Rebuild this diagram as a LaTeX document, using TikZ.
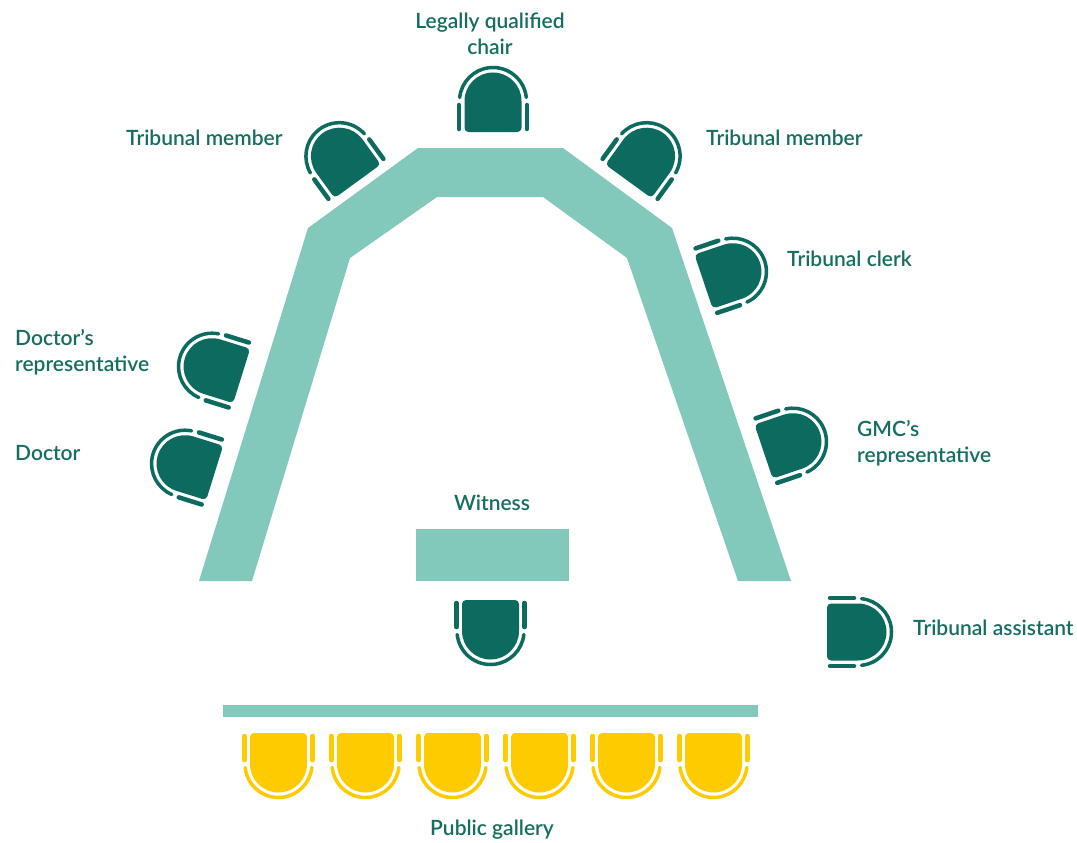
\documentclass[tikz,border=0pt]{standalone}
\usepackage{fontspec}
\setmainfont{Lato}[UprightFont={* Semibold}]
\definecolor{tablec}{HTML}{82C8BB}
\definecolor{chairc}{HTML}{0C6B5E}
\definecolor{goldc}{HTML}{FECB00}
\definecolor{textc}{HTML}{156E61}
\newcommand\chairpic[3]{%
\begin{scope}[shift={(#1)}, rotate=#2, x=1pt, y=1pt]
 \fill[#3] (28.5,1) arc[start angle=0,end angle=180,radius=28.5] -- (-28.5,-26) arc[start angle=180,end angle=270,radius=4] -- (24.5,-30) arc[start angle=270,end angle=360,radius=4] -- cycle;
 \draw[#3, line width=3.5pt, line cap=round] ({33.5*cos(6)},{1+33.5*sin(6)}) arc[start angle=6,end angle=174,radius=33.5];
 \draw[#3, line width=4.5pt, line cap=round] (-34,-3) -- (-34,-27) (34,-3) -- (34,-27);
\end{scope}}
\tikzset{lbl/.style={text=textc, inner sep=0pt, font=\fontsize{21}{26}\selectfont}}
\begin{document}
\begin{tikzpicture}[x=1pt,y=-1pt]
\useasboundingbox (0,0) rectangle (1077,843);
\fill[white] (0,0) rectangle (1077,843);
% main table
\fill[tablec] (418,148) -- (563,148) -- (672,228) -- (791,581) -- (738,581) -- (627,258) -- (543,197) -- (437,197) -- (350,258) -- (252,581) -- (199,581) -- (308,228) -- cycle;
% witness table
\fill[tablec] (416,529) rectangle (569,581);
% gallery bar
\fill[tablec] (223,705) rectangle (758,717);
% chairs
\chairpic{493,102}{0}{chairc}
\chairpic{340,157}{36}{chairc}
\chairpic{646,157}{-36}{chairc}
\chairpic{732,272}{-71.4}{chairc}
\chairpic{792,442}{-71.4}{chairc}
\chairpic{213,367}{72.7}{chairc}
\chairpic{186,464}{72.7}{chairc}
\chairpic{490.5,630}{180}{chairc}
\chairpic{857,632}{-90}{chairc}
\foreach \k in {0,...,5}{\chairpic{278.5+87*\k,763}{180}{goldc}}
% labels
\node[lbl, align=center] (lqc) at (490,34) {Legally qualified\\chair};
\node[lbl, anchor=west] (tml) at (126,138) {Tribunal member};
\node[lbl, anchor=west] (tmr) at (706,138) {Tribunal member};
\node[lbl, anchor=west] (tc) at (787,259) {Tribunal clerk};
\node[lbl, anchor=west, align=left] (drep) at (15,352) {Doctor’s\\representative};
\node[lbl, anchor=west] (doc) at (15,453) {Doctor};
\node[lbl, anchor=west, align=left] (gmc) at (857,443) {GMC’s\\representative};
\node[lbl] (wit) at (492,503) {Witness};
\node[lbl, anchor=west] (ta) at (913,628) {Tribunal assistant};
\node[lbl] (pg) at (492,830) {Public gallery};
\end{tikzpicture}
\end{document}
